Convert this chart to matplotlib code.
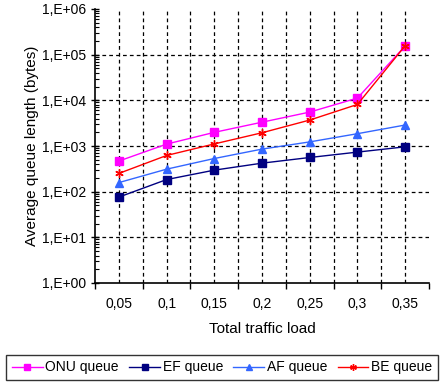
import numpy as np
import matplotlib
matplotlib.use("Agg")
import matplotlib.pyplot as plt
from matplotlib.ticker import FixedLocator, LogLocator, NullFormatter

plt.rcParams["font.family"] = ["Liberation Sans", "DejaVu Sans"]

LOADS = ["0,05", "0,1", "0,15", "0,2", "0,25", "0,3", "0,35"]
ONU_QUEUE = [468, 1100, 1990, 3320, 5530, 11200, 155000]
EF_QUEUE = [76, 184, 296, 421, 560, 735, 960]
AF_QUEUE = [158, 311, 532, 855, 1230, 1860, 2880]
BE_QUEUE = [251, 620, 1110, 1950, 3700, 8130, 157000]
Y_TICK_LABELS = ["1,E+00", "1,E+01", "1,E+02", "1,E+03", "1,E+04", "1,E+05", "1,E+06"]

fig = plt.figure(figsize=(4.44, 3.89), dpi=100)
ax = fig.add_axes([95 / 444, 1 - 283 / 389, 334 / 444, 274 / 389])

x = np.arange(len(LOADS))
ax.plot(x, ONU_QUEUE, color="#ff00ff", marker="s", markersize=6, lw=1, label="ONU queue")
ax.plot(x, EF_QUEUE, color="#000080", marker="s", markersize=6, lw=1, label="EF queue")
ax.plot(x, AF_QUEUE, color="#3366ff", marker="^", markersize=6, lw=1, label="AF queue")
ax.plot(x, BE_QUEUE, color="#ff0000", marker=(6, 2, 0), markersize=6, mew=1, lw=1, label="BE queue")

ax.set_yscale("log")
ax.set_ylim(1, 1e6)
ax.set_xlim(-0.5, len(LOADS) - 0.5)

ax.yaxis.set_major_locator(FixedLocator([10.0 ** k for k in range(7)]))
ax.set_yticklabels(Y_TICK_LABELS, fontsize=10)
ax.yaxis.set_minor_locator(LogLocator(base=10, subs=np.arange(2, 10), numticks=20))
ax.yaxis.set_minor_formatter(NullFormatter())
ax.tick_params(axis="y", which="major", direction="inout", length=6, width=1)
ax.tick_params(axis="y", which="minor", direction="in", length=3, width=0.8)

# category boundaries carry the ticks, labels sit at the centres
ax.set_xticks(np.arange(-0.5, len(LOADS)), minor=False)
ax.set_xticklabels([""] * (len(LOADS) + 1))
ax.set_xticks(x, minor=True)
ax.set_xticklabels(LOADS, minor=True, fontsize=10)
ax.tick_params(axis="x", which="major", direction="out", length=4, width=1)
ax.tick_params(axis="x", which="minor", length=0, pad=10)

for xv in np.arange(0, len(LOADS) - 0.5, 0.5):
    ax.axvline(xv, color="black", ls=(0, (3, 2.5)), lw=0.9, zorder=0)
for k in range(1, 6):
    ax.axhline(10.0 ** k, color="black", ls=(0, (3, 2.5)), lw=0.9, zorder=0)

for side in ["top", "right"]:
    ax.spines[side].set_visible(False)
for side in ["left", "bottom"]:
    ax.spines[side].set_linewidth(1.2)

ax.set_xlabel("Total traffic load", fontsize=11, labelpad=8)
ax.set_ylabel("Average queue length (bytes)", fontsize=11, labelpad=2)

leg = fig.legend(
    loc="lower center", bbox_to_anchor=(0.5, 9 / 389), ncol=4, frameon=True,
    fancybox=False, edgecolor="black", fontsize=10, handlelength=2.2,
    columnspacing=0.75, handletextpad=0.2, borderpad=0.4, borderaxespad=0,
    markerscale=0.8,
)
leg.get_frame().set_linewidth(1.0)

fig.savefig("out.png", dpi=100)
